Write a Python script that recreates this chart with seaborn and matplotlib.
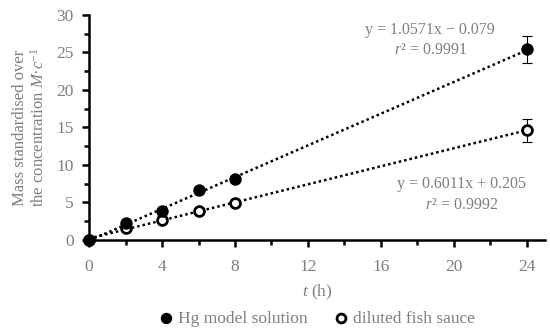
import numpy as np
import pandas as pd
import matplotlib
matplotlib.use("Agg")
import matplotlib.pyplot as plt
import seaborn as sns
from matplotlib.ticker import MultipleLocator

# data
t_hours = [0, 2, 4, 6, 8, 24]
hg_model = [0.0, 2.2, 3.8, 6.6, 8.1, 25.4]
hg_err = [0.0, 0.0, 0.0, 0.0, 0.0, 1.75]
fish_sauce = [0.0, 1.6, 2.7, 3.8, 4.9, 14.6]
fish_err = [0.0, 0.0, 0.0, 0.0, 0.0, 1.55]

# linear fits from the chart labels
hg_fit = (1.0571, -0.079)
fish_fit = (0.6011, 0.205)

x_ticks = [0, 4, 8, 12, 16, 20, 24]
y_ticks = [0, 5, 10, 15, 20, 25, 30]

grey = "#7f7f7f"


def main():
    sns.set_style("ticks")
    plt.rcParams["font.family"] = ["Liberation Serif", "DejaVu Serif"]
    plt.rcParams["mathtext.fontset"] = "custom"
    plt.rcParams["mathtext.rm"] = "Liberation Serif"
    plt.rcParams["mathtext.it"] = "Liberation Serif:italic"

    fig = plt.figure(figsize=(5.5, 3.31), dpi=100)
    ax = fig.add_axes([0.162, 0.275, 0.829, 0.68])

    data = pd.DataFrame({
        "t": t_hours * 2,
        "value": hg_model + fish_sauce,
        "err": hg_err + fish_err,
        "series": ["Hg model solution"] * len(t_hours) + ["diluted fish sauce"] * len(t_hours),
    })

    # dotted trend lines
    xs = np.array([0, 24])
    ax.plot(xs, hg_fit[0] * xs + hg_fit[1], ls=(0, (1, 1.2)), color="black", lw=1.8, zorder=1)
    ax.plot(xs, fish_fit[0] * xs + fish_fit[1], ls=(0, (1, 1.2)), color="black", lw=1.8, zorder=1)

    # error bars
    for name in ["diluted fish sauce", "Hg model solution"]:
        sub = data[data["series"] == name]
        ax.errorbar(sub["t"], sub["value"], yerr=sub["err"], fmt="none",
                    ecolor="black", elinewidth=0.8, capsize=3.5, capthick=0.8, zorder=2)

    sns.scatterplot(data=data[data["series"] == "diluted fish sauce"], x="t", y="value",
                    ax=ax, color="white", edgecolor="black", s=50, linewidth=2,
                    label="diluted fish sauce", zorder=3, clip_on=False)
    sns.scatterplot(data=data[data["series"] == "Hg model solution"], x="t", y="value",
                    ax=ax, color="black", edgecolor="black", s=60, linewidth=1.2,
                    label="Hg model solution", zorder=4, clip_on=False)

    ax.text(18.7, 28.0, "y = 1.0571x − 0.079", ha="center", va="center", color=grey, fontsize=11.5)
    ax.text(18.7, 25.3, "$r$² = 0.9991", ha="center", va="center", color=grey, fontsize=11.5)
    ax.text(20.4, 7.4, "y = 0.6011x + 0.205", ha="center", va="center", color=grey, fontsize=11.5)
    ax.text(20.4, 4.7, "$r$² = 0.9992", ha="center", va="center", color=grey, fontsize=11.5)

    ax.set_xlim(0, 25)
    ax.set_ylim(0, 30)
    ax.set_xticks(x_ticks)
    ax.set_yticks(y_ticks)
    ax.xaxis.set_minor_locator(MultipleLocator(2))
    ax.yaxis.set_minor_locator(MultipleLocator(2.5))
    ax.tick_params(axis="both", which="major", direction="out", length=5, width=1.8,
                   color="black", labelcolor=grey, labelsize=12.5, pad=6)
    ax.tick_params(axis="x", which="major", pad=9)
    ax.tick_params(axis="both", which="minor", direction="out", length=3.5, width=1.8, color="black")

    sns.despine(ax=ax)
    for side in ["left", "bottom"]:
        ax.spines[side].set_linewidth(1.8)
        ax.spines[side].set_color("black")

    ax.set_xlabel("$t$ (h)", color=grey, fontsize=12.5, labelpad=5)
    ax.set_ylabel("Mass standardised over\nthe concentration $M$·$c$$^{−1}$",
                  color=grey, fontsize=12, labelpad=6, linespacing=1.15)

    handles, labels = ax.get_legend_handles_labels()
    order = [labels.index("Hg model solution"), labels.index("diluted fish sauce")]
    ax.legend([handles[i] for i in order], [labels[i] for i in order],
              loc="upper center", bbox_to_anchor=(0.5, -0.245), ncol=2, frameon=False,
              fontsize=12.5, labelcolor=grey, handlelength=0.8, handletextpad=0.3,
              columnspacing=1.5, markerscale=0.9)

    fig.savefig("out.png", dpi=100)


if __name__ == "__main__":
    main()
